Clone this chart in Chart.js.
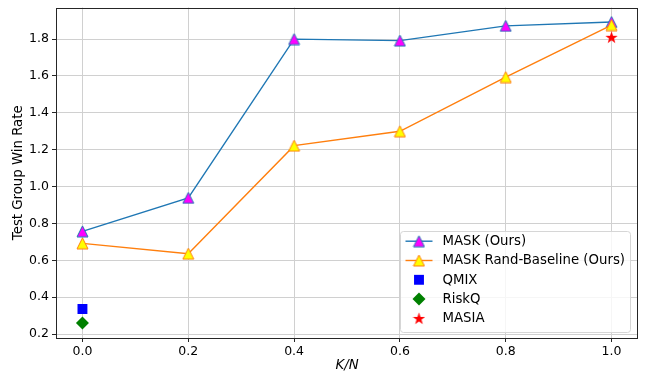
<!DOCTYPE html>
<html>
<head>
<meta charset="utf-8">
<script src="https://cdn.jsdelivr.net/npm/chart.js@4.4.0/dist/chart.umd.min.js"></script>
<style>
html, body { margin: 0; padding: 0; background: #fff; }
canvas { display: block; }
</style>
</head>
<body>
<canvas id="graficoWinRate" width="651" height="377"></canvas>
<script>
// valores
const ratioKN = [0.0, 0.2, 0.4, 0.6, 0.8, 1.0];
const maskOurs = [0.757, 0.939, 1.800, 1.792, 1.872, 1.893];
const maskRand = [0.692, 0.636, 1.222, 1.300, 1.594, 1.876];
const qmixX = [0.0];
const qmixY = [0.336];
const riskqX = [0.0];
const riskqY = [0.260];
const masiaX = [1.0];
const masiaY = [1.810];
const xTicks = [0.0, 0.2, 0.4, 0.6, 0.8, 1.0];
const yTicks = [0.2, 0.4, 0.6, 0.8, 1.0, 1.2, 1.4, 1.6, 1.8];

const FONT = "'DejaVu Sans', sans-serif";

function toPoints(xs, ys) {
    return xs.map((x, i) => ({ x: x, y: ys[i] }));
}

// estrella rellena tipo matplotlib
function makeStar(size, color) {
    const c = document.createElement('canvas');
    c.width = size;
    c.height = size;
    const ctx = c.getContext('2d');
    const cx = size / 2, cy = size / 2 + 0.5;
    const R = size / 2, r = R * 0.4;
    ctx.beginPath();
    for (let i = 0; i < 10; i++) {
        const rad = -Math.PI / 2 + i * Math.PI / 5;
        const rr = i % 2 === 0 ? R : r;
        ctx.lineTo(cx + Math.cos(rad) * rr, cy + Math.sin(rad) * rr);
    }
    ctx.closePath();
    ctx.fillStyle = color;
    ctx.fill();
    return c;
}

// triangulo '^' centrado en su caja, como matplotlib
function makeTriangle(size, fill, edge) {
    const c = document.createElement('canvas');
    c.width = size + 2;
    c.height = size + 2;
    const ctx = c.getContext('2d');
    const h = size / 2;
    const cx = c.width / 2, cy = c.height / 2;
    ctx.beginPath();
    ctx.moveTo(cx, cy - h);
    ctx.lineTo(cx + h, cy + h);
    ctx.lineTo(cx - h, cy + h);
    ctx.closePath();
    ctx.fillStyle = fill;
    ctx.fill();
    ctx.strokeStyle = edge;
    ctx.lineWidth = 1;
    ctx.lineJoin = 'miter';
    ctx.stroke();
    return c;
}

const starImg = makeStar(13, '#ff0000');
const triMask = makeTriangle(11, '#ff00ff', '#1f77b4');
const triRand = makeTriangle(11, '#ffff00', '#ff7f0e');

const spines = {
    id: 'spines',
    afterDatasetsDraw(chart) {
        const { ctx, chartArea: a } = chart;
        ctx.save();
        ctx.strokeStyle = '#262626';
        ctx.lineWidth = 1;
        ctx.strokeRect(Math.round(a.left) + 0.5, Math.round(a.top) + 0.5,
            Math.round(a.right - a.left) - 1, Math.round(a.bottom - a.top) - 1);
        ctx.restore();
    }
};

const mplLegend = {
    id: 'mplLegend',
    afterDraw(chart) {
        const { ctx, chartArea: a } = chart;
        const ds = chart.data.datasets;
        ctx.save();
        ctx.font = '13.3px ' + FONT;
        const textW = Math.max(...ds.map(d => ctx.measureText(d.label).width));
        const rowH = 19.3;
        const boxW = 42 + textW + 5;
        const boxH = ds.length * rowH + 4;
        const right = a.right - 8;
        const bottom = a.bottom - 7;
        const left = right - boxW;
        const top = bottom - boxH;

        ctx.beginPath();
        ctx.roundRect(Math.round(left) + 0.5, Math.round(top) + 0.5, Math.round(boxW), Math.round(boxH), 3);
        ctx.fillStyle = 'rgba(255,255,255,0.8)';
        ctx.fill();
        ctx.strokeStyle = '#d6d6d6';
        ctx.lineWidth = 1;
        ctx.stroke();

        ds.forEach((d, i) => {
            const y = top + 10.7 + i * rowH;
            const mx = left + 18.5;
            if (d.showLine) {
                ctx.beginPath();
                ctx.moveTo(left + 5, y);
                ctx.lineTo(left + 32, y);
                ctx.strokeStyle = d.borderColor;
                ctx.lineWidth = d.borderWidth;
                ctx.stroke();
            }
            ctx.fillStyle = d.pointBackgroundColor;
            ctx.strokeStyle = d.pointBorderColor;
            ctx.lineWidth = d.pointBorderWidth;
            Chart.helpers.drawPoint(ctx, {
                pointStyle: d.pointStyle,
                radius: d.pointRadius,
                rotation: 0,
                borderWidth: d.pointBorderWidth
            }, mx, y);
            ctx.fillStyle = '#000';
            ctx.textBaseline = 'middle';
            ctx.textAlign = 'left';
            ctx.fillText(d.label, left + 42, y + 0.5);
        });
        ctx.restore();
    }
};

const graphic = document.getElementById('graficoWinRate');

const chart = new Chart(graphic, {
    type: 'scatter',
    data: {
        datasets: [
            {
                label: 'MASK (Ours)',
                data: toPoints(ratioKN, maskOurs),
                showLine: true,
                borderColor: '#1f77b4',
                borderWidth: 1.4,
                pointStyle: triMask,
                pointRadius: 6.5,
                pointBackgroundColor: '#ff00ff',
                pointBorderColor: '#1f77b4',
                pointBorderWidth: 1,
                order: 3
            },
            {
                label: 'MASK Rand-Baseline (Ours)',
                data: toPoints(ratioKN, maskRand),
                showLine: true,
                borderColor: '#ff7f0e',
                borderWidth: 1.4,
                pointStyle: triRand,
                pointRadius: 6.5,
                pointBackgroundColor: '#ffff00',
                pointBorderColor: '#ff7f0e',
                pointBorderWidth: 1,
                order: 2
            },
            {
                label: 'QMIX',
                data: toPoints(qmixX, qmixY),
                pointStyle: 'rect',
                pointRadius: 7,
                pointBackgroundColor: '#0000ff',
                pointBorderColor: '#0000ff',
                pointBorderWidth: 0,
                order: 4
            },
            {
                label: 'RiskQ',
                data: toPoints(riskqX, riskqY),
                pointStyle: 'rectRot',
                pointRadius: 6.5,
                pointBackgroundColor: '#008000',
                pointBorderColor: '#008000',
                pointBorderWidth: 0,
                order: 5
            },
            {
                label: 'MASIA',
                data: toPoints(masiaX, masiaY),
                pointStyle: starImg,
                pointRadius: 6,
                pointBackgroundColor: '#ff0000',
                pointBorderColor: '#ff0000',
                pointBorderWidth: 0,
                order: 1
            }
        ]
    },
    options: {
        responsive: false,
        animation: false,
        devicePixelRatio: 1,
        layout: { padding: { left: 0, right: 13, top: 7, bottom: 0 } },
        plugins: {
            legend: { display: false },
            tooltip: { enabled: false }
        },
        scales: {
            x: {
                type: 'linear',
                min: -0.05,
                max: 1.05,
                afterFit: s => {
                    s.height = 39;
                    s.paddingLeft = 0;
                    s.paddingRight = 0;
                },
                afterBuildTicks: s => { s.ticks = xTicks.map(v => ({ value: v })); },
                grid: { color: '#d0d0d0', tickColor: '#262626', tickLength: 4, lineWidth: 1 },
                border: { display: false },
                ticks: {
                    color: '#000',
                    padding: 2,
                    maxRotation: 0,
                    font: { family: FONT, size: 12.5 },
                    callback: v => v.toFixed(1)
                },
                title: {
                    display: true,
                    text: 'K/N',
                    color: '#000',
                    padding: { top: 0, bottom: 3 },
                    font: { family: FONT, size: 13.3, style: 'italic' }
                }
            },
            y: {
                type: 'linear',
                min: 0.1785,
                max: 1.9715,
                afterFit: s => {
                    s.width = 56;
                    s.paddingTop = 0;
                    s.paddingBottom = 0;
                },
                afterBuildTicks: s => { s.ticks = yTicks.map(v => ({ value: v })); },
                grid: { color: '#d0d0d0', tickColor: '#262626', tickLength: 4, lineWidth: 1 },
                border: { display: false },
                ticks: {
                    color: '#000',
                    padding: 3,
                    font: { family: FONT, size: 12.5 },
                    callback: v => v.toFixed(1)
                },
                title: {
                    display: true,
                    text: 'Test Group Win Rate',
                    color: '#000',
                    padding: { top: 11, bottom: 0 },
                    font: { family: FONT, size: 13.3 }
                }
            }
        }
    },
    plugins: [spines, mplLegend]
});
</script>
</body>
</html>
